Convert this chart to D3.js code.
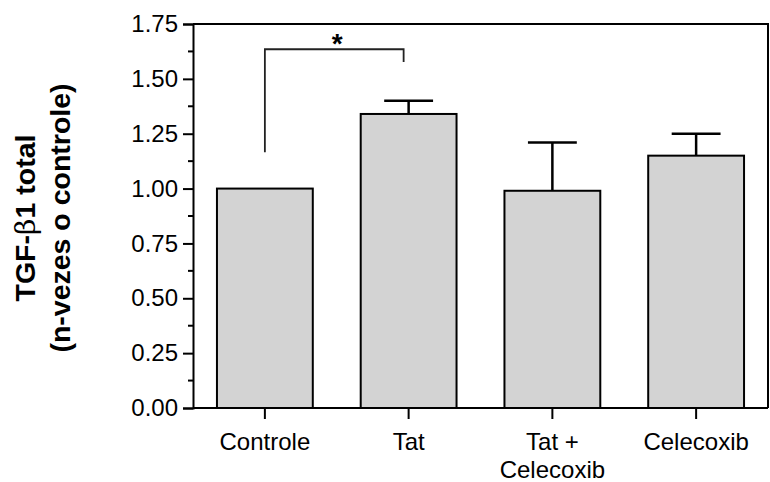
<!DOCTYPE html>
<html lang="pt">
<head>
<meta charset="UTF-8">
<title>TGF-beta1 total</title>
<script src="https://cdn.jsdelivr.net/npm/d3@7"></script>
<style>
    body { margin: 0; background: #fff; }
    svg { display: block; font-family: "Liberation Sans", Arial, sans-serif; }
</style>
</head>
<body>
<div id="chart"></div>
<script>
// data
var groups = ["Controle", "Tat", "Tat +\nCelecoxib", "Celecoxib"]
var means = [1.00, 1.34, 0.99, 1.15]
var errTop = [1.00, 1.40, 1.21, 1.25]
var yTicks = [0, 0.25, 0.5, 0.75, 1.0, 1.25, 1.5, 1.75]
// significance bracket: Controle vs Tat
var sig = { from: 0, to: 1, leftY: 1.165, topY: 1.635, rightY: 1.577, label: "*" }

var width = 770, height = 482
var mLeft = 193, mRight = 768, mTop = 24, mBottom = 408

var svg = d3.select("#chart").append("svg")
    .attr("width", width).attr("height", height)

var x = d3.scaleBand().domain(groups).range([mLeft, mRight])
    .paddingInner(1 / 3).paddingOuter(1 / 6)
var y = d3.scaleLinear().domain([0, 1.75]).range([mBottom, mTop])

// bars
svg.selectAll("rect.bar").data(groups).enter().append("rect")
    .attr("class", "bar")
    .attr("x", d => x(d))
    .attr("width", x.bandwidth())
    .attr("y", (d, i) => y(means[i]))
    .attr("height", (d, i) => y(0) - y(means[i]))
    .attr("fill", "#d3d3d3")
    .attr("stroke", "#000")
    .attr("stroke-width", 2)

// error bars (upper only)
var capW = x.bandwidth() * 0.51
groups.forEach(function (g, i) {
    if (errTop[i] <= means[i]) return
    var cx = x(g) + x.bandwidth() / 2
    svg.append("line")
        .attr("x1", cx).attr("x2", cx)
        .attr("y1", y(means[i])).attr("y2", y(errTop[i]))
        .attr("stroke", "#000").attr("stroke-width", 2.5)
    svg.append("line")
        .attr("x1", cx - capW / 2).attr("x2", cx + capW / 2)
        .attr("y1", y(errTop[i])).attr("y2", y(errTop[i]))
        .attr("stroke", "#000").attr("stroke-width", 2.5)
})

// frame: top and right
svg.append("path")
    .attr("d", `M${mLeft},${mTop}H${mRight}V${mBottom}`)
    .attr("fill", "none").attr("stroke", "#000").attr("stroke-width", 2)

// y axis
var yAxis = d3.axisLeft(y).tickValues(yTicks).tickSize(10).tickPadding(5)
    .tickFormat(d3.format(".2f"))
var gy = svg.append("g").attr("transform", `translate(${mLeft},0)`).call(yAxis)
gy.select(".domain").attr("stroke-width", 2)
gy.selectAll(".tick line").attr("stroke-width", 2)
gy.selectAll(".tick text").attr("font-size", 24).attr("fill", "#000")
    .attr("font-family", "Liberation Sans, Arial, sans-serif")

// minor ticks
var minor = d3.range(0.125, 1.75, 0.25)
svg.selectAll("line.minor").data(minor).enter().append("line")
    .attr("x1", mLeft - 5).attr("x2", mLeft)
    .attr("y1", d => y(d)).attr("y2", d => y(d))
    .attr("stroke", "#000").attr("stroke-width", 2)

// x axis
var xAxis = d3.axisBottom(x).tickSize(11).tickFormat("")
var gx = svg.append("g").attr("transform", `translate(0,${mBottom})`).call(xAxis)
gx.select(".domain").attr("d", `M${mLeft},0H${mRight}`).attr("stroke-width", 2)
gx.selectAll(".tick line").attr("stroke-width", 2)

gx.selectAll(".tick").each(function (d) {
    var t = d3.select(this).append("text")
        .attr("text-anchor", "middle")
        .attr("fill", "#000")
        .attr("font-size", 24)
        .attr("font-family", "Liberation Sans, Arial, sans-serif")
    d.split("\n").forEach(function (line, k) {
        t.append("tspan").attr("x", 0).attr("y", 42 + k * 28).text(line)
    })
})

// significance bracket
var sx1 = x(groups[sig.from]) + x.bandwidth() / 2
var sx2 = x(groups[sig.to]) + x.bandwidth() / 2 - 5
svg.append("path")
    .attr("d", `M${sx1},${y(sig.leftY)}V${y(sig.topY)}H${sx2}V${y(sig.rightY)}`)
    .attr("fill", "none").attr("stroke", "#222").attr("stroke-width", 1.8)
svg.append("text")
    .attr("x", (sx1 + sx2) / 2 + 3).attr("y", y(sig.topY) + 4)
    .attr("text-anchor", "middle")
    .attr("font-size", 28).attr("font-weight", "bold")
    .text(sig.label)

// y title
var title = svg.append("text")
    .attr("transform", "translate(0,218) rotate(-90)")
    .attr("text-anchor", "middle")
    .attr("font-size", 28.5).attr("font-weight", "bold").attr("fill", "#000")
var l1 = title.append("tspan").attr("x", 0).attr("y", 35)
l1.append("tspan").text("TGF-")
l1.append("tspan").attr("font-weight", "normal").attr("font-family", "DejaVu Serif, serif").text("\u03b2")
l1.append("tspan").text("1 total")
title.append("tspan").attr("x", 0).attr("y", 70).text("(n-vezes o controle)")
</script>
</body>
</html>
